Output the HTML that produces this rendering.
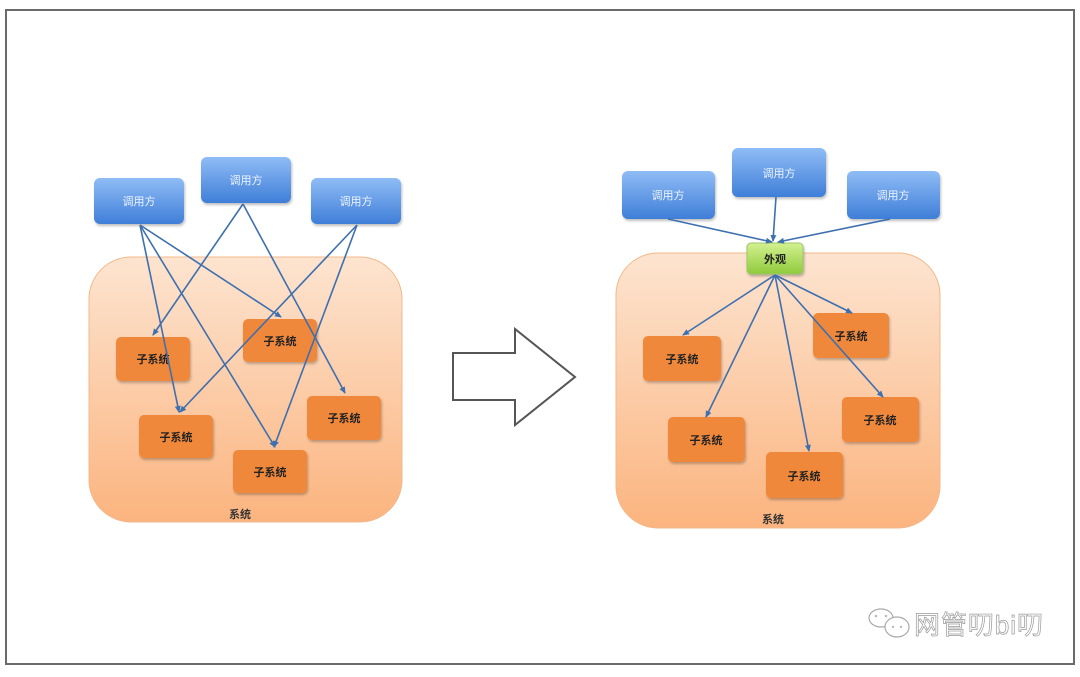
<!DOCTYPE html>
<html><head><meta charset="utf-8"><style>
html,body{margin:0;padding:0;background:#fff;}
svg text{font-family:"Liberation Sans","Noto Sans CJK SC",sans-serif;}
</style></head><body>
<svg width="1080" height="672" viewBox="0 0 1080 672" xmlns="http://www.w3.org/2000/svg">
<defs>
<linearGradient id="blue" x1="0" y1="0" x2="0" y2="1"><stop offset="0" stop-color="#8fbcf5"/><stop offset="1" stop-color="#3f7ed8"/></linearGradient>
<linearGradient id="sys" x1="0" y1="0" x2="0" y2="1"><stop offset="0" stop-color="#fde4d0"/><stop offset="1" stop-color="#fbb47f"/></linearGradient>
<linearGradient id="green" x1="0" y1="0" x2="0" y2="1"><stop offset="0" stop-color="#d3f08f"/><stop offset="1" stop-color="#8fcb3c"/></linearGradient>
<filter id="sh" x="-10%" y="-10%" width="130%" height="140%"><feDropShadow dx="1" dy="2" stdDeviation="1.2" flood-color="#000" flood-opacity="0.25"/></filter>
<marker id="ah" markerWidth="8" markerHeight="8" refX="6" refY="3" orient="auto" markerUnits="userSpaceOnUse"><path d="M0,0 L7,3 L0,6 z" fill="#3e6fae"/></marker>
</defs>
<rect x="6" y="10" width="1068" height="654" fill="none" stroke="#6a6a6a" stroke-width="2"/>

<!-- LEFT -->
<rect x="89" y="257" width="313" height="265" rx="42" fill="url(#sys)" stroke="#f3b88a" stroke-width="1"/>
<text x="240" y="518" font-size="11" font-weight="bold" text-anchor="middle" fill="#333">系统</text>
<g fill="#f0883a" filter="url(#sh)">
<rect x="116" y="337" width="74" height="44" rx="5"/>
<rect x="243" y="319" width="74" height="43" rx="5"/>
<rect x="139" y="415" width="74" height="43" rx="5"/>
<rect x="307" y="396" width="74" height="44" rx="5"/>
<rect x="233" y="450" width="74" height="43" rx="5"/>
</g>
<g font-size="11" font-weight="bold" text-anchor="middle" fill="#222">
<text x="153" y="363">子系统</text><text x="280" y="345">子系统</text><text x="176" y="441">子系统</text><text x="344" y="422">子系统</text><text x="270" y="476">子系统</text>
</g>
<g fill="url(#blue)" filter="url(#sh)">
<rect x="94" y="178" width="90" height="46" rx="6"/>
<rect x="201" y="157" width="90" height="46" rx="6"/>
<rect x="311" y="178" width="90" height="46" rx="6"/>
</g>
<g font-size="11" text-anchor="middle" fill="#eef4ff">
<text x="139" y="205">调用方</text><text x="246" y="184">调用方</text><text x="356" y="205">调用方</text>
</g>
<g stroke="#3e6fae" stroke-width="1.6" marker-end="url(#ah)" fill="none">
<line x1="140" y1="225" x2="281" y2="317"/>
<line x1="140" y1="225" x2="179" y2="412"/>
<line x1="140" y1="225" x2="275" y2="447"/>
<line x1="243" y1="204" x2="153" y2="335"/>
<line x1="243" y1="204" x2="345" y2="393"/>
<line x1="357" y1="225" x2="180" y2="412"/>
<line x1="357" y1="225" x2="274" y2="447"/>
</g>

<!-- ARROW -->
<polygon points="453,353 515,353 515,329 575,377 515,425 515,400 453,400" fill="#fff" stroke="#555" stroke-width="2"/>

<!-- RIGHT -->
<rect x="616" y="253" width="324" height="275" rx="42" fill="url(#sys)" stroke="#f3b88a" stroke-width="1"/>
<text x="773" y="523" font-size="11" font-weight="bold" text-anchor="middle" fill="#333">系统</text>
<g fill="#f0883a" filter="url(#sh)">
<rect x="643" y="336" width="78" height="45" rx="5"/>
<rect x="813" y="313" width="76" height="45" rx="5"/>
<rect x="668" y="417" width="77" height="45" rx="5"/>
<rect x="842" y="397" width="77" height="45" rx="5"/>
<rect x="766" y="452" width="77" height="46" rx="5"/>
</g>
<g font-size="11" font-weight="bold" text-anchor="middle" fill="#222">
<text x="682" y="363">子系统</text><text x="851" y="340">子系统</text><text x="706" y="444">子系统</text><text x="880" y="424">子系统</text><text x="804" y="480">子系统</text>
</g>
<g fill="url(#blue)" filter="url(#sh)">
<rect x="622" y="171" width="93" height="48" rx="6"/>
<rect x="732" y="148" width="94" height="49" rx="6"/>
<rect x="847" y="171" width="93" height="48" rx="6"/>
</g>
<g font-size="11" text-anchor="middle" fill="#eef4ff">
<text x="668" y="199">调用方</text><text x="779" y="177">调用方</text><text x="893" y="199">调用方</text>
</g>
<rect x="747" y="243" width="56" height="31" rx="4" fill="url(#green)" stroke="#9cc86a" filter="url(#sh)"/>
<text x="775" y="263" font-size="11" font-weight="bold" text-anchor="middle" fill="#222">外观</text>
<g stroke="#3e6fae" stroke-width="1.6" marker-end="url(#ah)" fill="none">
<line x1="668" y1="219" x2="772" y2="242"/>
<line x1="776" y1="197" x2="773" y2="241"/>
<line x1="890" y1="219" x2="778" y2="242"/>
<line x1="775" y1="275" x2="683" y2="335"/>
<line x1="775" y1="275" x2="706" y2="417"/>
<line x1="775" y1="275" x2="809" y2="451"/>
<line x1="775" y1="275" x2="852" y2="313"/>
<line x1="775" y1="275" x2="883" y2="397"/>
</g>

<!-- watermark -->
<g stroke="#aaa" fill="#fff" stroke-width="1.2">
<ellipse cx="881" cy="618" rx="12" ry="9"/>
<ellipse cx="897" cy="627" rx="12" ry="10"/>
</g>
<g fill="#bbb"><circle cx="876" cy="616" r="1.3"/><circle cx="886" cy="616" r="1.3"/><circle cx="893" cy="627" r="1.2"/><circle cx="901" cy="627" r="1.2"/></g>
<text x="914" y="634" font-size="26" fill="#fff" stroke="#999" stroke-width="0.7" textLength="129">网管叨bi叨</text>
</svg>
</body></html>
